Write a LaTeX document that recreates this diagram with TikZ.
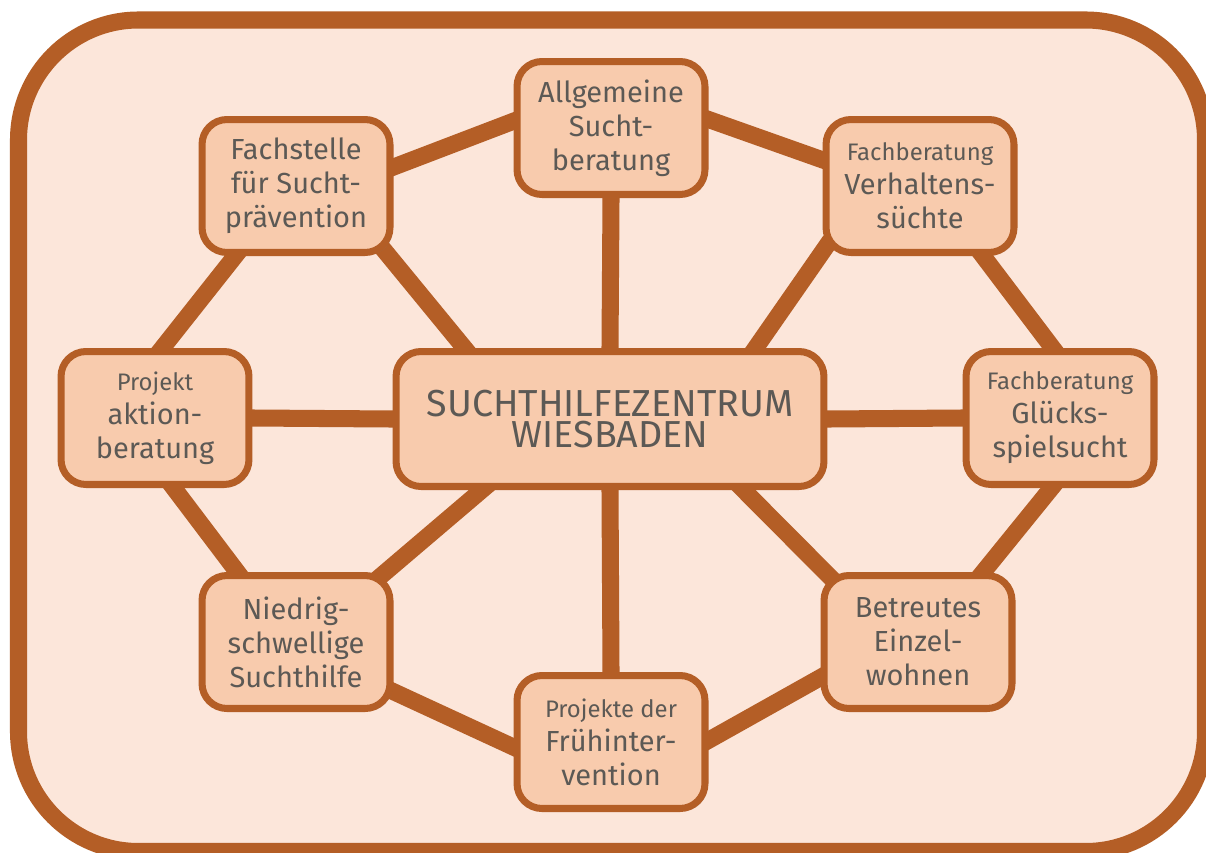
\documentclass[tikz,border=0pt]{standalone}
\usepackage{fontspec}
\setmainfont{Fira Sans}
\usetikzlibrary{backgrounds,shadows}
\definecolor{rahmen}{HTML}{B45E26}
\definecolor{grund}{HTML}{FCE6DA}
\definecolor{kasten}{HTML}{F8CBAD}
\definecolor{schrift}{HTML}{5C5955}
\newcommand{\klein}{\fontsize{13.6}{15}\selectfont}
\begin{document}
\begin{tikzpicture}[x=0.02cm,y=-0.02cm,
    box/.style={draw=rahmen, fill=kasten, line width=4pt, rounded corners=0.5cm,
      minimum width=3.76cm, minimum height=2.66cm, inner sep=2pt, align=center,
      text=schrift, font=\fontsize{16.5}{19.4}\selectfont,
      drop shadow={opacity=0.25, shadow xshift=1.5pt, shadow yshift=-1.5pt}},
    link/.style={draw=rahmen, line width=9.7pt, shorten <=-8pt, shorten >=-8pt}]
  \useasboundingbox (0,0) rectangle (1206,852);
  %Frame
  \begin{scope}[on background layer]
    \fill[white] (0,0) rectangle (1206,852);
    \draw[rahmen, line width=9.7pt, fill=grund, rounded corners=2.4cm]
      (18.5,20) rectangle (1205.5,851.5);
  \end{scope}
  %Center
  \node[box, minimum width=8.56cm, minimum height=2.7cm, font=\fontsize{21.4}{17.5}\selectfont]
    (zentrum) at (610,419) {SUCHTHILFEZENTRUM\\WIESBADEN};
  %Ring
  \node[box] (allg) at (611,128) {Allgemeine\\Sucht-\\beratung};
  \node[box] (fach) at (296,186) {Fachstelle\\für Sucht-\\prävention};
  \node[box] (verh) at (920,186) {{\klein Fachberatung}\\Verhaltens-\\süchte};
  \node[box] (proj) at (155,418) {{\klein Projekt}\\aktion-\\beratung};
  \node[box] (glueck) at (1060,418) {{\klein Fachberatung}\\Glücks-\\spielsucht};
  \node[box] (nied) at (296,642) {Niedrig-\\schwellige\\Suchthilfe};
  \node[box] (betr) at (918,642) {Betreutes\\Einzel-\\wohnen};
  \node[box] (frueh) at (611,742) {{\klein Projekte der}\\Frühinter-\\vention};
  %Links
  \begin{scope}[on background layer]
    \draw[link] (allg.176) -- (fach.11);
    \draw[link] (allg.5) -- (verh.165);
    \draw[link] (allg.south) -- (zentrum.north);
    \draw[link] (fach.-37) -- (zentrum.154);
    \draw[link] (fach.229) -- (proj.84);
    \draw[link] (proj.east) -- (zentrum.west);
    \draw[link] (proj.-75) -- (nied.130);
    \draw[link] (nied.38) -- (zentrum.209);
    \draw[link] (verh.214) -- (zentrum.26);
    \draw[link] (verh.-48) -- (glueck.96);
    \draw[link] (glueck.west) -- (zentrum.east);
    \draw[link] (glueck.263) -- (betr.47);
    \draw[link] (betr.143) -- (zentrum.-28);
    \draw[link] (zentrum.south) -- (frueh.north);
    \draw[link] (nied.-27) -- (frueh.183);
    \draw[link] (betr.200) -- (frueh.1);
  \end{scope}
\end{tikzpicture}
\end{document}
